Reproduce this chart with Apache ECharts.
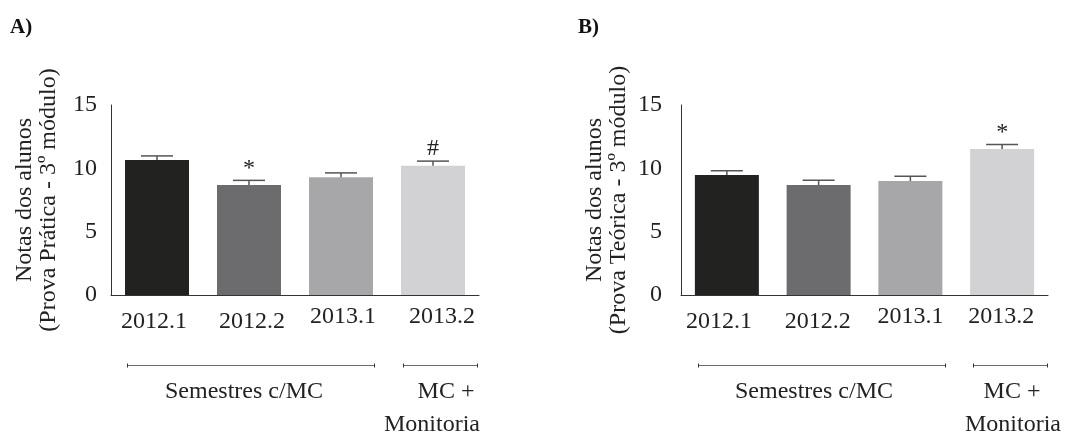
<!DOCTYPE html>
<html>
<head>
<meta charset="utf-8">
<script src="https://cdn.jsdelivr.net/npm/echarts@6/dist/echarts.min.js"></script>
<style>
  html, body { margin: 0; padding: 0; background: #fff; }
  #chart { width: 1068px; height: 437px; }
</style>
</head>
<body>
<div id="chart"></div>
<script>
// Semesters on the x axis
const categories = ['2012.1', '2012.2', '2013.1', '2013.2'];

// A) Prova Prática – mean grade, standard error, significance mark
const praticaMeans = [10.65, 8.68, 9.30, 10.20];
const praticaErrors = [0.33, 0.37, 0.34, 0.37];
const praticaMarks = ['', '*', '', '#'];

// B) Prova Teórica – mean grade, standard error, significance mark
const teoricaMeans = [9.47, 8.68, 9.00, 11.52];
const teoricaErrors = [0.34, 0.37, 0.37, 0.37];
const teoricaMarks = ['', '', '', '*'];

// Y axis ticks
const yMin = 0, yMax = 15, yStep = 5;

const FONT = '"Liberation Serif", "DejaVu Serif", serif';
const INK = '#222';
const barColors = ['#222220', '#6c6c6e', '#a7a7a9', '#d2d2d4'];

// per-panel layout
const panels = [
  {
    letter: 'A)', letterX: 10,
    title: 'Notas dos alunos\n(Prova Prática - 3º módulo)',
    means: praticaMeans, errors: praticaErrors, marks: praticaMarks,
    grid: { left: 111, top: 105, width: 368, height: 190 },
    yLabelMargin: 14,
    labelShift: [-3, 3, 2, 9],
    brace1: [127.5, 374.5], brace2: [403.5, 477.5],
    groupX: 244, mcX: 446, monX: 432
  },
  {
    letter: 'B)', letterX: 578,
    title: 'Notas dos alunos\n(Prova Teórica - 3º módulo)',
    means: teoricaMeans, errors: teoricaErrors, marks: teoricaMarks,
    grid: { left: 681, top: 105, width: 367, height: 190 },
    yLabelMargin: 19,
    labelShift: [-8, -1, 0, -1],
    brace1: [698.5, 945.5], brace2: [973.5, 1047.5],
    groupX: 814, mcX: 1012, monX: 1013
  }
];

// labels of the second year sit slightly higher
const labelDrop = [5, 5, 0, 0];

function makeRich(shift) {
  const rich = {};
  shift.forEach((s, i) => {
    rich['c' + i] = {
      fontFamily: FONT, fontSize: 24, color: INK,
      padding: [labelDrop[i], s < 0 ? -2 * s : 0, 0, s > 0 ? 2 * s : 0]
    };
  });
  return rich;
}

function errorRenderer(marks) {
  return function (params, api) {
    const idx = api.value(0);
    const mean = api.value(1);
    const err = api.value(2);
    const base = api.coord([idx, mean]);
    const top = api.coord([idx, mean + err]);
    const half = 16;
    const children = [
      { type: 'line', shape: { x1: base[0], y1: base[1], x2: top[0], y2: top[1] },
        style: { stroke: '#555', lineWidth: 1.5 } },
      { type: 'line', shape: { x1: top[0] - half, y1: top[1], x2: top[0] + half, y2: top[1] },
        style: { stroke: '#555', lineWidth: 1.5 } }
    ];
    const mark = marks[params.dataIndex];
    if (mark) {
      children.push({
        type: 'text',
        style: {
          text: mark, x: top[0], y: top[1],
          align: 'center', verticalAlign: 'bottom',
          font: '24px ' + FONT, fill: INK
        }
      });
    }
    return { type: 'group', children };
  };
}

const grid = [], xAxis = [], yAxis = [], series = [], graphic = [];

panels.forEach((p, k) => {
  grid.push(p.grid);
  xAxis.push({
    type: 'category', gridIndex: k, data: categories,
    axisLine: { lineStyle: { color: '#333', width: 1 } },
    axisTick: { show: false },
    axisLabel: {
      margin: 10, interval: 0,
      formatter: (v, i) => '{c' + i + '|' + v + '}',
      rich: makeRich(p.labelShift)
    }
  });
  yAxis.push({
    type: 'value', gridIndex: k, min: yMin, max: yMax, interval: yStep,
    name: p.title, nameLocation: 'middle', nameGap: 50,
    nameTextStyle: { fontFamily: FONT, fontSize: 24, color: INK, lineHeight: 24 },
    axisLine: { show: true, lineStyle: { color: '#333', width: 1 } },
    axisTick: { show: false },
    splitLine: { show: false },
    axisLabel: { margin: p.yLabelMargin, fontFamily: FONT, fontSize: 24, color: INK }
  });
  series.push({
    type: 'bar', xAxisIndex: k, yAxisIndex: k, barWidth: 64,
    data: p.means.map((m, i) => ({ value: m, itemStyle: { color: barColors[i] } })),
    z: 2
  });
  series.push({
    type: 'custom', xAxisIndex: k, yAxisIndex: k, z: 3,
    encode: { x: 0, y: 1 },
    data: p.means.map((m, i) => [i, m, p.errors[i]]),
    renderItem: errorRenderer(p.marks)
  });

  // panel letter
  graphic.push({
    type: 'text', left: p.letterX, top: 17,
    style: { text: p.letter, font: 'bold 21px ' + FONT, fill: '#111' }
  });
  // group braces under the axis
  const braceY = 365.5;
  [p.brace1, p.brace2].forEach(b => {
    graphic.push({ type: 'line', shape: { x1: b[0], y1: braceY, x2: b[1], y2: braceY },
      style: { stroke: '#6a6a6a', lineWidth: 1 } });
    b.forEach(x => graphic.push({ type: 'line',
      shape: { x1: x, y1: braceY - 2, x2: x, y2: braceY + 2 },
      style: { stroke: '#333', lineWidth: 1 } }));
  });
  graphic.push({ type: 'text', x: p.groupX, y: 392,
    style: { text: 'Semestres c/MC', font: '24px ' + FONT, fill: INK, align: 'center', verticalAlign: 'middle' } });
  graphic.push({ type: 'text', x: p.mcX, y: 392,
    style: { text: 'MC +', font: '24px ' + FONT, fill: INK, align: 'center', verticalAlign: 'middle' } });
  graphic.push({ type: 'text', x: p.monX, y: 425,
    style: { text: 'Monitoria', font: '24px ' + FONT, fill: INK, align: 'center', verticalAlign: 'middle' } });
});

const chart = echarts.init(document.getElementById('chart'), null, { renderer: 'canvas' });
chart.setOption({
  animation: false,
  backgroundColor: '#fff',
  textStyle: { fontFamily: FONT },
  grid, xAxis, yAxis, series, graphic
});
</script>
</body>
</html>
